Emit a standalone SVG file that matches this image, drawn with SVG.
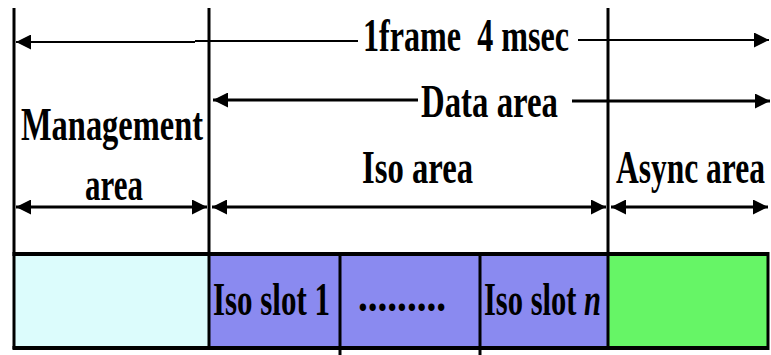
<svg xmlns="http://www.w3.org/2000/svg" width="771" height="355" viewBox="0 0 771 355">
<style>
.t{font-family:"Liberation Serif","Times New Roman",serif;font-weight:bold;font-size:46px;fill:#000}
.ln{stroke:#000;fill:none}
</style>
<defs>
<marker id="ah" viewBox="0 0 14 14" refX="14" refY="7" markerWidth="15" markerHeight="15" markerUnits="userSpaceOnUse" orient="auto-start-reverse">
<path d="M0,0 L14,7 L0,14 Z" fill="#000"/>
</marker>
</defs>
<rect x="0" y="0" width="771" height="355" fill="#fff"/>
<g id="mgmt-box"><rect x="14" y="255" width="195" height="92" fill="#dcfcfc"/></g>
<g id="iso-slot-1"><rect x="209" y="255" width="131" height="92" fill="#8a8af0"/><text class="t" x="213" y="315" textLength="117" lengthAdjust="spacingAndGlyphs">Iso slot 1</text></g>
<g id="iso-dots"><rect x="340" y="255" width="140" height="92" fill="#8a8af0"/><text class="t" x="358" y="311" textLength="88" lengthAdjust="spacingAndGlyphs">.........</text></g>
<g id="iso-slot-n"><rect x="480" y="255" width="128" height="92" fill="#8a8af0"/><text class="t" x="484" y="315" textLength="117" lengthAdjust="spacingAndGlyphs">Iso slot <tspan font-style="italic">n</tspan></text></g>
<g id="async-box"><rect x="608" y="255" width="160" height="92" fill="#66f566"/></g>
<g id="frame-lines">
<line class="ln" x1="14" y1="8" x2="14" y2="349" stroke-width="3"/>
<line class="ln" x1="209" y1="8" x2="209" y2="349" stroke-width="3"/>
<line class="ln" x1="608" y1="8" x2="608" y2="349" stroke-width="3"/>
<line class="ln" x1="340" y1="255" x2="340" y2="355" stroke-width="3"/>
<line class="ln" x1="480" y1="255" x2="480" y2="355" stroke-width="3"/>
<line class="ln" x1="12.5" y1="254" x2="769" y2="254" stroke-width="4"/>
<line class="ln" x1="12.5" y1="348" x2="769" y2="348" stroke-width="4"/>
<line class="ln" x1="768" y1="252" x2="768" y2="350" stroke-width="3"/>
</g>
<g id="labels">
<text class="t" x="363" y="51" textLength="206" lengthAdjust="spacingAndGlyphs">1frame&#160; 4 msec</text>
<text class="t" x="421" y="117" textLength="137" lengthAdjust="spacingAndGlyphs">Data area</text>
<text class="t" x="21" y="140" textLength="182" lengthAdjust="spacingAndGlyphs">Management</text>
<text class="t" x="85" y="200" textLength="58" lengthAdjust="spacingAndGlyphs">area</text>
<text class="t" x="362" y="183" textLength="111" lengthAdjust="spacingAndGlyphs">Iso area</text>
<text class="t" x="616" y="183" textLength="149" lengthAdjust="spacingAndGlyphs">Async area</text>
</g>
<g id="connectors">
<line class="ln" x1="195" y1="42" x2="16" y2="42" stroke-width="2" marker-end="url(#ah)"/>
<line class="ln" x1="195" y1="41" x2="358" y2="41" stroke-width="2"/>
<line class="ln" x1="578" y1="40" x2="769" y2="40" stroke-width="2" marker-end="url(#ah)"/>
<line class="ln" x1="418" y1="100" x2="213" y2="100" stroke-width="3" marker-end="url(#ah)"/>
<line class="ln" x1="572" y1="101" x2="770" y2="101" stroke-width="3" marker-end="url(#ah)"/>
<line class="ln" x1="16" y1="207" x2="207" y2="207" stroke-width="3" marker-start="url(#ah)" marker-end="url(#ah)"/>
<line class="ln" x1="212" y1="207" x2="606" y2="207" stroke-width="3" marker-start="url(#ah)" marker-end="url(#ah)"/>
<line class="ln" x1="611" y1="207" x2="768" y2="207" stroke-width="3" marker-start="url(#ah)" marker-end="url(#ah)"/>
</g>
</svg>
